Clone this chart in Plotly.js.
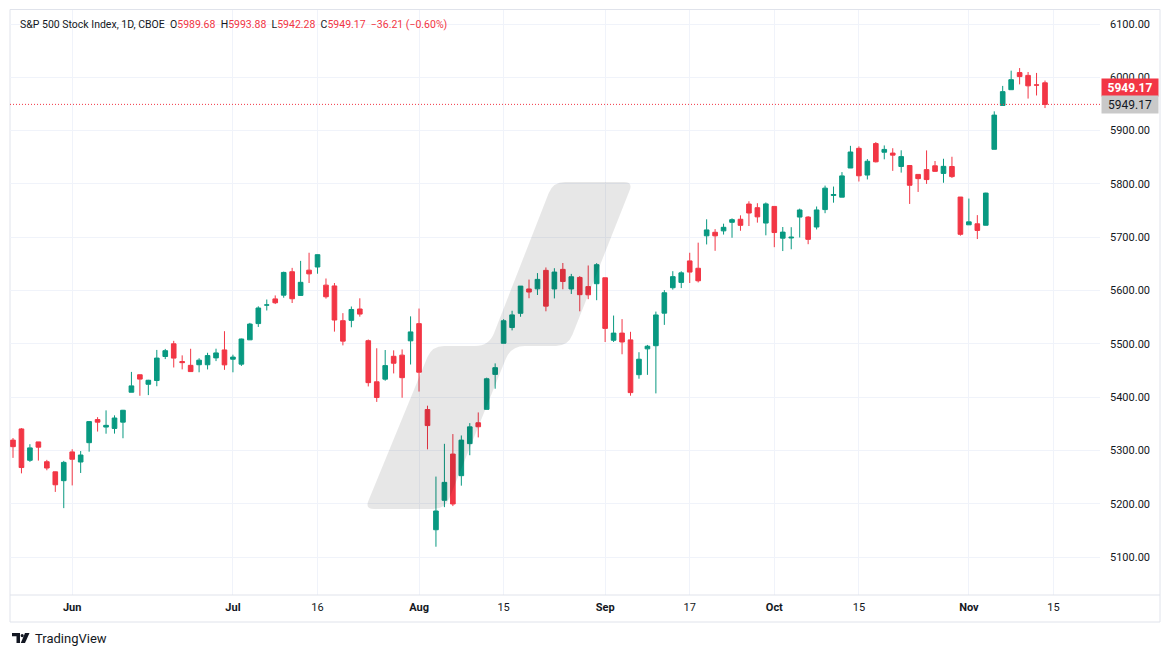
<!DOCTYPE html>
<html>
<head>
<meta charset="utf-8">
<script src="https://cdn.plot.ly/plotly-3.0.1.min.js"></script>
<style>
  html, body { margin: 0; padding: 0; background: #ffffff; }
  #chart { width: 1171px; height: 657px; }
</style>
</head>
<body>
<div id="chart"></div>
<script>
// ---- Data: S&P 500 Index, daily bars ----
const dates = [
  '2024-05-22','2024-05-23','2024-05-24','2024-05-28','2024-05-29','2024-05-30','2024-05-31',
  '2024-06-03','2024-06-04','2024-06-05','2024-06-06','2024-06-07','2024-06-10','2024-06-11','2024-06-12','2024-06-13','2024-06-14',
  '2024-06-17','2024-06-18','2024-06-20','2024-06-21','2024-06-24','2024-06-25','2024-06-26','2024-06-27','2024-06-28',
  '2024-07-01','2024-07-02','2024-07-03','2024-07-05','2024-07-08','2024-07-09','2024-07-10','2024-07-11','2024-07-12',
  '2024-07-15','2024-07-16','2024-07-17','2024-07-18','2024-07-19','2024-07-22','2024-07-23','2024-07-24','2024-07-25','2024-07-26',
  '2024-07-29','2024-07-30','2024-07-31',
  '2024-08-01','2024-08-02','2024-08-05','2024-08-06','2024-08-07','2024-08-08','2024-08-09','2024-08-12','2024-08-13','2024-08-14',
  '2024-08-15','2024-08-16','2024-08-19','2024-08-20','2024-08-21','2024-08-22','2024-08-23','2024-08-26','2024-08-27','2024-08-28',
  '2024-08-29','2024-08-30',
  '2024-09-03','2024-09-04','2024-09-05','2024-09-06','2024-09-09','2024-09-10','2024-09-11','2024-09-12','2024-09-13','2024-09-16',
  '2024-09-17','2024-09-18','2024-09-19','2024-09-20','2024-09-23','2024-09-24','2024-09-25','2024-09-26','2024-09-27','2024-09-30',
  '2024-10-01','2024-10-02','2024-10-03','2024-10-04','2024-10-07','2024-10-08','2024-10-09','2024-10-10','2024-10-11','2024-10-14',
  '2024-10-15','2024-10-16','2024-10-17','2024-10-18','2024-10-21','2024-10-22','2024-10-23','2024-10-24','2024-10-25','2024-10-28',
  '2024-10-29','2024-10-30','2024-10-31',
  '2024-11-01','2024-11-04','2024-11-05','2024-11-06','2024-11-07','2024-11-08','2024-11-11','2024-11-12','2024-11-13','2024-11-14'
];

const opens = [
  5319.28,5340.26,5281.45,5315.91,5278.73,5259.77,5243.21,
  5297.15,5278.24,5314.48,5357.80,5343.81,5341.22,5353.00,5409.13,5441.93,5424.08,
  5431.11,5476.15,5499.99,5466.77,5459.58,5460.73,5460.71,5473.59,5488.48,
  5471.08,5461.84,5507.44,5537.91,5572.75,5584.24,5591.26,5635.21,5590.76,
  5638.16,5644.09,5610.07,5608.56,5543.37,5544.00,5565.30,5505.84,5428.70,5433.67,
  5476.55,5478.73,5505.59,
  5537.84,5376.63,5151.14,5206.42,5293.13,5252.57,5312.70,5351.88,5376.98,5442.61,
  5501.00,5530.50,5557.23,5602.88,5603.09,5637.77,5602.89,5639.66,5602.89,5624.51,
  5607.30,5612.74,
  5623.89,5506.68,5520.08,5507.33,5442.07,5490.51,5496.42,5557.48,5605.21,5615.21,
  5655.51,5641.68,5702.63,5709.21,5711.90,5727.92,5733.65,5762.22,5755.36,5726.52,
  5757.73,5698.19,5698.56,5737.80,5737.80,5719.14,5751.80,5778.36,5775.09,5829.81,
  5866.74,5816.58,5875.62,5859.43,5857.82,5832.70,5834.50,5817.80,5826.75,5833.93,
  5819.68,5832.65,5775.34,
  5723.22,5725.15,5722.43,5864.89,5947.21,5976.76,6008.86,6003.60,5985.75,5989.68
];

const highs = [
  5323.18,5341.88,5311.65,5315.91,5282.26,5260.21,5280.33,
  5302.11,5298.80,5354.16,5362.35,5375.08,5365.79,5375.95,5447.25,5441.93,5432.39,
  5488.50,5490.38,5505.53,5478.31,5490.66,5472.88,5483.14,5490.81,5523.64,
  5479.55,5509.69,5539.27,5570.33,5583.11,5590.75,5635.39,5642.45,5655.56,
  5670.84,5667.34,5622.49,5614.05,5557.50,5570.00,5585.34,5508.04,5491.59,5488.32,
  5487.74,5489.46,5551.51,
  5566.16,5383.89,5250.89,5312.34,5330.64,5328.03,5351.20,5371.20,5436.50,5463.22,
  5546.23,5561.98,5608.30,5620.51,5632.68,5643.22,5641.82,5651.62,5631.18,5627.03,
  5646.95,5651.37,
  5623.89,5552.99,5546.30,5522.47,5484.20,5497.91,5560.41,5600.71,5636.27,5636.05,
  5670.81,5689.75,5733.57,5715.14,5725.36,5735.32,5741.03,5767.37,5763.78,5765.14,
  5757.73,5719.14,5718.78,5753.61,5739.34,5757.60,5796.80,5795.03,5822.13,5871.41,
  5870.36,5846.52,5878.46,5872.17,5866.92,5863.04,5834.85,5817.80,5862.82,5842.92,
  5847.19,5850.94,5775.34,
  5772.50,5741.43,5783.44,5936.14,5983.84,6012.45,6017.31,6009.92,6008.19,5993.88
];

const lows = [
  5286.01,5256.93,5278.39,5280.89,5262.70,5222.10,5191.68,
  5234.32,5257.63,5297.64,5335.36,5331.33,5331.52,5322.81,5409.13,5402.51,5403.75,
  5420.40,5471.32,5455.56,5452.03,5447.59,5446.56,5451.87,5467.54,5451.12,
  5446.53,5458.43,5507.42,5531.63,5562.51,5574.57,5586.44,5576.53,5590.44,
  5614.05,5631.47,5584.81,5522.81,5497.04,5531.00,5550.90,5419.98,5390.95,5430.70,
  5444.44,5398.83,5461.14,
  5410.42,5302.03,5119.26,5193.56,5195.54,5233.85,5290.93,5324.37,5376.98,5415.70,
  5501.00,5525.17,5550.74,5585.50,5591.57,5560.95,5585.16,5602.34,5593.48,5560.95,
  5583.71,5581.79,
  5503.36,5503.42,5480.36,5402.62,5434.49,5441.72,5406.96,5535.50,5601.65,5604.53,
  5614.05,5615.08,5686.42,5674.49,5704.94,5698.99,5712.06,5721.01,5727.34,5703.53,
  5681.28,5674.00,5677.37,5699.42,5686.85,5714.56,5745.02,5764.76,5775.09,5829.81,
  5804.48,5808.34,5840.25,5846.11,5824.45,5821.17,5762.41,5784.92,5799.98,5823.08,
  5802.17,5811.28,5702.86,
  5723.22,5696.51,5722.10,5864.89,5947.21,5976.76,5986.69,5960.08,5965.91,5942.28
];

const closes = [
  5307.01,5267.84,5304.72,5306.04,5266.95,5235.48,5277.51,
  5283.40,5291.34,5354.03,5352.96,5346.99,5360.79,5375.32,5421.03,5433.74,5431.60,
  5473.23,5487.03,5473.17,5464.62,5447.87,5469.30,5477.90,5482.87,5460.48,
  5475.09,5509.01,5537.02,5567.19,5572.85,5576.98,5633.91,5584.54,5615.35,
  5631.22,5667.20,5588.27,5544.59,5505.00,5564.41,5555.74,5427.13,5399.22,5459.10,
  5463.54,5436.44,5522.30,
  5446.68,5346.56,5186.33,5240.03,5199.50,5319.31,5344.16,5344.39,5434.43,5455.21,
  5543.22,5554.25,5608.25,5597.12,5620.85,5570.64,5634.61,5616.84,5625.80,5592.18,
  5591.96,5648.40,
  5528.93,5520.07,5503.41,5408.42,5471.05,5495.52,5554.13,5595.76,5626.02,5633.09,
  5634.58,5618.26,5713.64,5702.55,5718.57,5732.93,5722.26,5745.37,5738.17,5762.48,
  5708.75,5709.54,5699.94,5751.07,5695.94,5751.13,5792.04,5780.05,5815.03,5859.85,
  5815.26,5842.47,5841.47,5864.67,5853.98,5851.20,5797.42,5809.86,5808.12,5823.52,
  5832.92,5813.67,5705.45,
  5728.80,5712.69,5782.76,5929.04,5973.10,5995.54,6001.35,5983.99,5985.38,5949.17
];

// Axis tick labels
const xTickDates  = ['2024-06-03','2024-07-01','2024-07-16','2024-08-01','2024-08-15','2024-09-03','2024-09-17','2024-10-01','2024-10-15','2024-11-01','2024-11-15'];
const xTickLabels = ['<b>Jun</b>','<b>Jul</b>','16','<b>Aug</b>','15','<b>Sep</b>','17','<b>Oct</b>','15','<b>Nov</b>','15'];
const yTickValues = [5100,5200,5300,5400,5500,5600,5700,5800,5900,6000,6100];
const yTickLabels = yTickValues.map(v => v.toFixed(2));

const titleText = 'S&P 500 Stock Index, 1D, CBOE';

// ---- Colors ----
const UP = '#089981', DOWN = '#f23645', TXT = '#131722', GRID = '#f0f3fa', FRAME = '#e0e3eb';

// ---- Derived ----
const idx = dates.map((d, i) => i);
const xTickVals = xTickDates.map(d => {
  const k = dates.indexOf(d);
  return k >= 0 ? k : dates.length; // first trading day after the last bar
});
const n = dates.length;
const lastO = opens[n-1], lastH = highs[n-1], lastL = lows[n-1], lastC = closes[n-1];
const prevC = closes[n-2];
const chg = lastC - prevC, pct = chg / prevC * 100;
const fmt = v => v.toFixed(2);
const sgn = v => (v < 0 ? '\u2212' + fmt(Math.abs(v)) : '+' + fmt(v));

// ---- Page geometry (pixels) ----
const W = 1171, H = 657;
const PL = 10, PR = 1100, PT = 10, PB = 595;
const px = x => (x - PL) / (PR - PL);
const py = y => (PB - y) / (PB - PT);

function roundedPath(pts, radii) {
  const m = pts.length;
  let d = '';
  for (let i = 0; i < m; i++) {
    const p = pts[i], a = pts[(i - 1 + m) % m], b = pts[(i + 1) % m];
    const r = radii[i];
    const la = Math.hypot(a[0]-p[0], a[1]-p[1]), lb = Math.hypot(b[0]-p[0], b[1]-p[1]);
    const s = [p[0] + (a[0]-p[0]) * r / la, p[1] + (a[1]-p[1]) * r / la];
    const e = [p[0] + (b[0]-p[0]) * r / lb, p[1] + (b[1]-p[1]) * r / lb];
    d += (i === 0 ? 'M' : 'L') + px(s[0]) + ',' + py(s[1]) + ' Q' + px(p[0]) + ',' + py(p[1]) + ' ' + px(e[0]) + ',' + py(e[1]) + ' ';
  }
  return d + 'Z';
}

// watermark (decoration)
const wm = roundedPath(
  [[365,509],[432,346],[489,346],[553,182],[633,182],[568,346],[511,346],[445,509]],
  [9, 12, 14, 12, 9, 12, 14, 12]
);

// TradingView logo glyph (decoration)
const logoT = 'M' + px(12) + ',' + py(633) + ' L' + px(20) + ',' + py(633) + ' L' + px(20) + ',' + py(643) +
  ' L' + px(16.5) + ',' + py(643) + ' L' + px(16.5) + ',' + py(636.3) + ' L' + px(12) + ',' + py(636.3) + ' Z';
const logoS = 'M' + px(25) + ',' + py(633) + ' L' + px(29.5) + ',' + py(633) + ' L' + px(25) + ',' + py(643) +
  ' L' + px(20.8) + ',' + py(643) + ' Z';

const trace = {
  type: 'candlestick',
  x: idx, open: opens, high: highs, low: lows, close: closes,
  text: dates, hoverinfo: 'text',
  increasing: { line: { color: UP, width: 1 }, fillcolor: UP },
  decreasing: { line: { color: DOWN, width: 1 }, fillcolor: DOWN },
  whiskerwidth: 0,
  showlegend: false
};

const header = titleText + '&nbsp;&nbsp;' +
  'O<span style="color:' + DOWN + '">' + fmt(lastO) + '</span>&nbsp;&nbsp;' +
  'H<span style="color:' + DOWN + '">' + fmt(lastH) + '</span>&nbsp;&nbsp;' +
  'L<span style="color:' + DOWN + '">' + fmt(lastL) + '</span>&nbsp;&nbsp;' +
  'C<span style="color:' + DOWN + '">' + fmt(lastC) + '</span>&nbsp;&nbsp;' +
  '<span style="color:' + DOWN + '">' + sgn(chg) + ' (' + sgn(pct) + '%)</span>';

const layout = {
  width: W, height: H,
  margin: { l: PL, r: W - PR, t: PT, b: H - PB, pad: 0 },
  paper_bgcolor: '#ffffff', plot_bgcolor: '#ffffff',
  font: { family: 'Roboto, "Liberation Sans", sans-serif', size: 11, color: TXT },
  showlegend: false,
  boxgap: 0.22,
  xaxis: {
    type: 'linear',
    range: [-(13 - PL) / 8.459, (n - 1) + (PR - 1045) / 8.459],
    tickmode: 'array', tickvals: xTickVals, ticktext: xTickLabels,
    showgrid: true, gridcolor: GRID, gridwidth: 1,
    zeroline: false, showline: false, ticks: '',
    ticklabelstandoff: 4,
    tickfont: { size: 11, color: TXT },
    rangeslider: { visible: false },
    fixedrange: true
  },
  yaxis: {
    side: 'right',
    range: [6100 - (PB - 24) / 0.533, 6100 + (24 - PT) / 0.533],
    tickmode: 'array', tickvals: yTickValues, ticktext: yTickLabels,
    showgrid: true, gridcolor: GRID, gridwidth: 1,
    zeroline: false, showline: false, ticks: '',
    ticklabelstandoff: 9,
    tickfont: { size: 11, color: TXT },
    fixedrange: true
  },
  shapes: [
    // outer frame
    { type: 'rect', xref: 'paper', yref: 'paper', x0: px(10), x1: px(1160), y0: py(622), y1: py(9.5),
      line: { color: FRAME, width: 1 }, fillcolor: 'rgba(0,0,0,0)', layer: 'below' },
    // time axis separator
    { type: 'line', xref: 'paper', yref: 'paper', x0: px(10), x1: px(1160), y0: py(595), y1: py(595),
      line: { color: FRAME, width: 1 } },
    // last price dotted line
    { type: 'line', xref: 'paper', yref: 'y', x0: 0, x1: 1, y0: lastC, y1: lastC,
      line: { color: DOWN, width: 1, dash: '1px,2px' }, layer: 'above' },
    // watermark
    { type: 'path', xref: 'paper', yref: 'paper', path: wm,
      fillcolor: 'rgba(0,0,0,0.095)', line: { width: 0 }, layer: 'above' },
    // logo
    { type: 'path', xref: 'paper', yref: 'paper', path: logoT, fillcolor: TXT, line: { width: 0 } },
    { type: 'path', xref: 'paper', yref: 'paper', path: logoS, fillcolor: TXT, line: { width: 0 } },
    { type: 'circle', xref: 'paper', yref: 'paper', x0: px(20.6), x1: px(23.8), y0: py(637.2), y1: py(634),
      fillcolor: TXT, line: { width: 0 } }
  ],
  annotations: [
    { xref: 'paper', yref: 'paper', x: px(18), y: py(24), xanchor: 'left', yanchor: 'middle',
      text: header, showarrow: false, font: { size: 10.5, color: TXT } },
    // last price label (red) above, price label (gray)
    { xref: 'paper', yref: 'y', x: 1, y: lastC, xanchor: 'left', yanchor: 'middle', xshift: 1, yshift: 16.5,
      text: '<b>' + fmt(lastC) + '</b>', showarrow: false, bgcolor: DOWN, width: 52, height: 13,
      borderpad: 2, font: { size: 12, color: '#ffffff' }, align: 'center' },
    { xref: 'paper', yref: 'y', x: 1, y: lastC, xanchor: 'left', yanchor: 'middle', xshift: 1, yshift: 0,
      text: fmt(lastC), showarrow: false, bgcolor: '#c9c9c9', width: 52, height: 13,
      borderpad: 2, font: { size: 12, color: TXT }, align: 'center' },
    { xref: 'paper', yref: 'paper', x: px(33), y: py(638.5), xanchor: 'left', yanchor: 'middle',
      text: 'TradingView', showarrow: false, font: { size: 13, color: TXT } }
  ]
};

Plotly.newPlot('chart', [trace], layout, { displayModeBar: false, staticPlot: true });
</script>
</body>
</html>
